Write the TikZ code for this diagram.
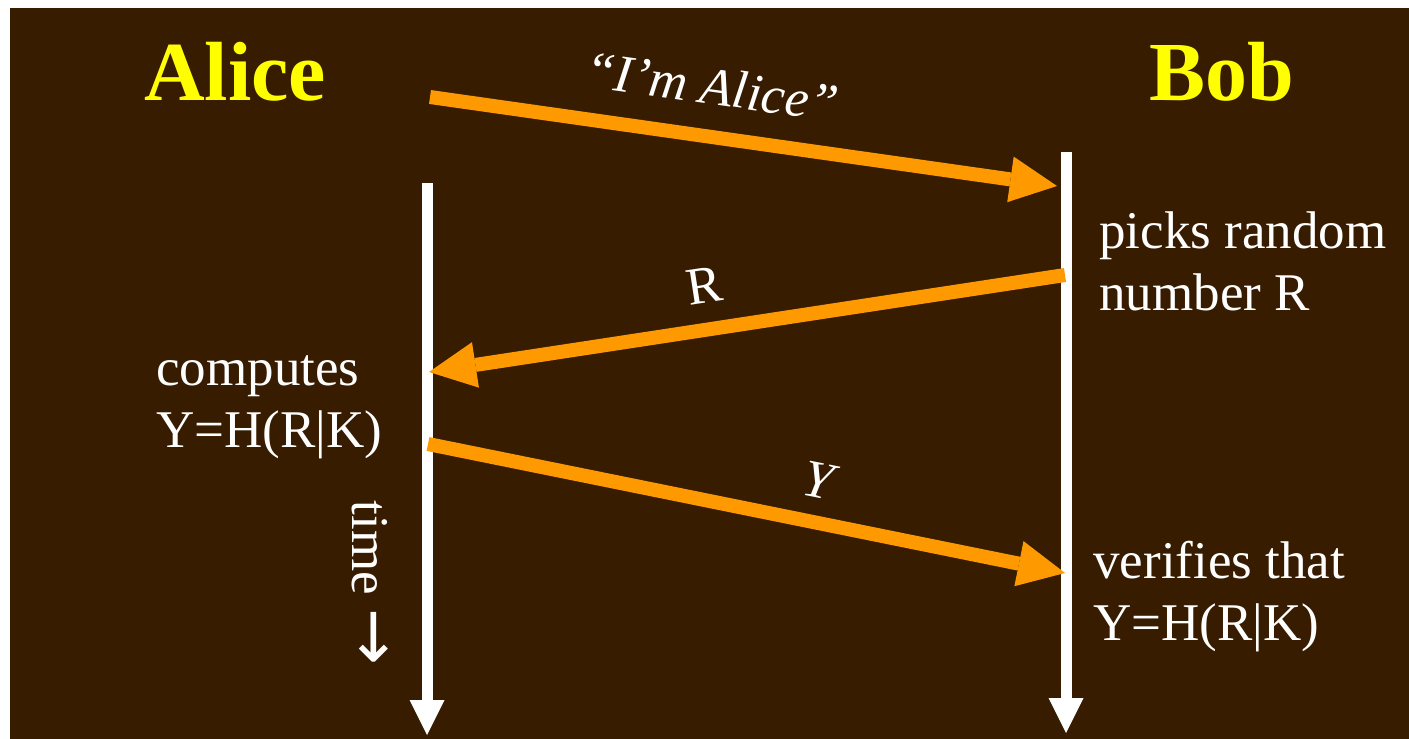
\documentclass[tikz,border=0pt]{standalone}
\usepackage{fontspec}
\setmainfont{Liberation Serif}
\newfontfamily\symfont{DejaVu Sans}
\usetikzlibrary{arrows.meta}
\definecolor{bg}{HTML}{381C00}
\definecolor{org}{HTML}{FF9900}
\definecolor{ylw}{HTML}{FFFF00}
\begin{document}
\begin{tikzpicture}[x=0.5pt,y=-0.5pt,
  msg/.style={draw=org, line width=7pt, -{Triangle[length=23.5pt,width=23pt,line width=0pt]}},
  lifeline/.style={draw=white, line width=5.5pt, -{Triangle[length=17.5pt,width=17.5pt,line width=0pt]}},
  lbl/.style={text=white, font=\fontsize{26.5}{31}\selectfont, inner sep=0pt},
  who/.style={text=ylw, font=\bfseries\fontsize{42}{50}\selectfont, inner sep=0pt, anchor=base}]
\useasboundingbox (0,0) rectangle (1409,739);
\fill[white] (0,0) rectangle (1409,739);
\fill[bg] (10,8) rectangle (1409,739);

\node[who] (alice) at (235,100) {Alice};
\node[who] (bob) at (1222,100) {Bob};

\coordinate (aT) at (427,183); \coordinate (aB) at (427,735);
\coordinate (bT) at (1066,152); \coordinate (bB) at (1066,733);
\coordinate (m1s) at (430,97);  \coordinate (m1e) at (1057,186);
\coordinate (m2s) at (1065,275); \coordinate (m2e) at (429,372);
\coordinate (m3s) at (428,444); \coordinate (m3e) at (1065,573);

\draw[lifeline] (aT) -- (aB);
\draw[lifeline] (bT) -- (bB);
\draw[msg] (m1s) -- (m1e);
\draw[msg] (m2s) -- (m2e);
\draw[msg] (m3s) -- (m3e);

\node[lbl, rotate=-8.1] (l1) at (712,86) {\itshape “I’m Alice”};
\node[lbl, rotate=8.7] (l2) at (704,286) {R};
\node[lbl, rotate=-11.4] (l3) at (818,480) {\itshape Y};

\node[lbl, align=left, anchor=west] (pick) at (1099,261) {picks random\\number R};
\node[lbl, align=left, anchor=west] (comp) at (156,407) {computes\\Y=H(R|K)};
\node[lbl, align=left, anchor=west] (ver) at (1093,597) {verifies that\\Y=H(R|K)};
\node[lbl, rotate=-90] (time) at (370,583) {time {\symfont\fontsize{34}{34}\selectfont →}};
\end{tikzpicture}
\end{document}
